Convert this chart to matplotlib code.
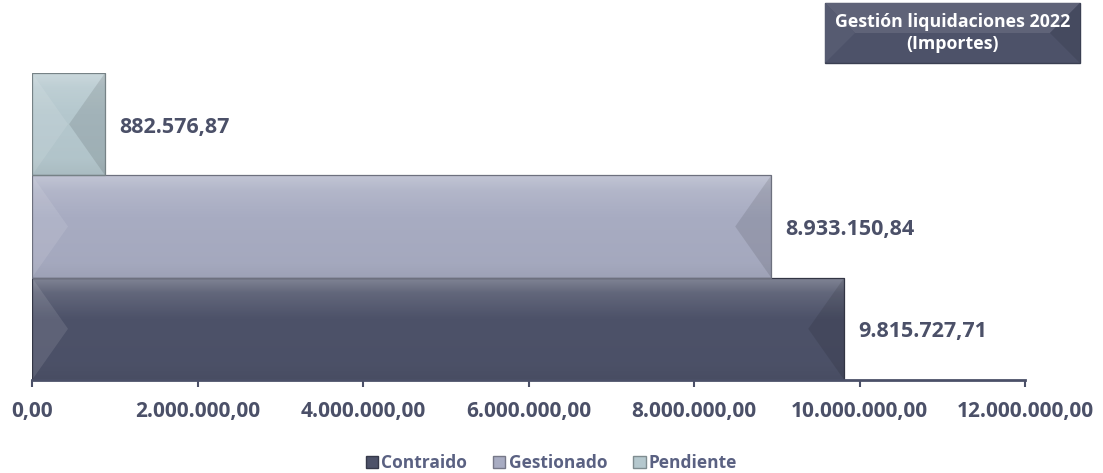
import numpy as np
import matplotlib.pyplot as plt
import matplotlib.colors as mc
from matplotlib.patches import Polygon, Rectangle
from matplotlib.ticker import FuncFormatter

# data
series = ['Contraido', 'Gestionado', 'Pendiente']
values = [9815727.71, 8933150.84, 882576.87]
labels = ['9.815.727,71', '8.933.150,84', '882.576,87']
colors = ['#4d5269', '#a8acc2', '#b5c8ce']
ticks = [0, 2e6, 4e6, 6e6, 8e6, 10e6, 12e6]

txt = '#4b5068'
W, H = 1103, 473


def es_fmt(v, pos=None):
    s = f'{v:,.2f}'
    return s.replace(',', 'X').replace('.', ',').replace('X', '.')


def shade(c, f):
    r, g, b = mc.to_rgb(c)
    if f > 0:
        return (r + (1 - r) * f, g + (1 - g) * f, b + (1 - b) * f)
    return (r * (1 + f), g * (1 + f), b * (1 + f))


def grad_cmap(c):
    # vertical gradient: light at the top, a bit darker at the bottom
    stops = [(0.0, shade(c, -0.06)), (0.15, shade(c, -0.02)), (0.6, c),
             (0.85, shade(c, 0.12)), (1.0, shade(c, 0.3))]
    return mc.LinearSegmentedColormap.from_list('g', stops)


def bevel(ax, x0, y0, w, h, c, dx):
    x1, y1 = x0 + w, y0 + h
    dx = min(dx, w / 2)
    ym = y0 + h / 2
    g = np.linspace(0, 1, 200).reshape(-1, 1)
    im = ax.imshow(g, cmap=grad_cmap(c), origin='lower', aspect='auto',
                   extent=(x0, x1, y0, y1), zorder=2, interpolation='bilinear')
    clip = Rectangle((x0, y0), w, h, transform=ax.transData)
    im.set_clip_path(clip)
    ax.add_patch(Polygon([(x0, y0), (x0, y1), (x0 + dx, ym)], closed=True,
                         fc='white', alpha=0.10, ec='none', zorder=3))
    ax.add_patch(Polygon([(x1, y0), (x1, y1), (x1 - dx, ym)], closed=True,
                         fc='black', alpha=0.10, ec='none', zorder=3))
    ax.add_patch(Rectangle((x0, y0), w, h, fc='none', ec=shade(c, -0.35), lw=0.9, zorder=4))


plt.rcParams['font.family'] = ['Open Sans', 'DejaVu Sans']

fig = plt.figure(figsize=(W / 100, H / 100), dpi=100)
ax = fig.add_axes([32 / W, 1 - 380 / H, (1025 - 32) / W, (380 - 73) / H])

xpx = 12e6 / (1025 - 32)
for i, (v, c, lab) in enumerate(zip(values, colors, labels)):
    bevel(ax, 0, i - 0.5, v, 1.0, c, 36 * xpx)
    ax.text(v + 14 * xpx, i - 0.03, lab, ha='left', va='center',
            fontsize=15.5, fontweight='bold', color=txt)

ax.set_xlim(0, 12e6)
ax.set_ylim(-0.5, 2.5)
for s in ['top', 'right', 'left']:
    ax.spines[s].set_visible(False)
ax.spines['bottom'].set_color(txt)
ax.spines['bottom'].set_linewidth(2)
ax.spines['bottom'].set_zorder(5)
ax.set_yticks([])
ax.set_xticks(ticks)
ax.xaxis.set_major_formatter(FuncFormatter(es_fmt))
ax.tick_params(axis='x', direction='out', length=5, width=1.5, color=txt,
               labelsize=15, labelcolor=txt, pad=10)
for t in ax.get_xticklabels():
    t.set_fontweight('bold')

# title box
bx0, by0, bw, bh = 825 / W, 1 - 63 / H, (1080 - 825) / W, 60 / H
tc = '#4d5269'
fig.patches.append(Rectangle((bx0, by0), bw, bh, transform=fig.transFigure,
                             fc=tc, ec='#3a3f52', lw=1, zorder=1))
d = 30
fig.patches.append(Polygon([(bx0, by0 + bh), (bx0 + bw, by0 + bh),
                            (bx0 + bw - d / W, by0 + bh / 2), (bx0 + d / W, by0 + bh / 2)],
                           transform=fig.transFigure, fc=shade(tc, 0.1), ec='none', zorder=2))
fig.patches.append(Polygon([(bx0, by0), (bx0, by0 + bh), (bx0 + d / W, by0 + bh / 2)],
                           transform=fig.transFigure, fc=shade(tc, 0.05), ec='none', zorder=2))
fig.patches.append(Polygon([(bx0 + bw, by0), (bx0 + bw, by0 + bh), (bx0 + bw - d / W, by0 + bh / 2)],
                           transform=fig.transFigure, fc=shade(tc, -0.1), ec='none', zorder=2))
fig.text(bx0 + bw / 2, by0 + bh / 2, 'Gestión liquidaciones 2022\n(Importes)',
         ha='center', va='center', color='white', fontsize=12.8, fontweight='bold',
         linespacing=1.25, zorder=5)

handles = [Rectangle((0, 0), 1, 1, fc=c, ec=shade(c, -0.3)) for c in colors]
fig.legend(handles, series, loc='center', bbox_to_anchor=(0.5, 1 - 463 / H), ncol=3,
           frameon=False, handlelength=0.7, handleheight=0.7, handletextpad=0.2,
           columnspacing=1.5, prop={'weight': 'bold', 'size': 12.5})
for t in fig.legends[0].get_texts():
    t.set_color('#5a6182')

fig.savefig('out.png', dpi=100)
